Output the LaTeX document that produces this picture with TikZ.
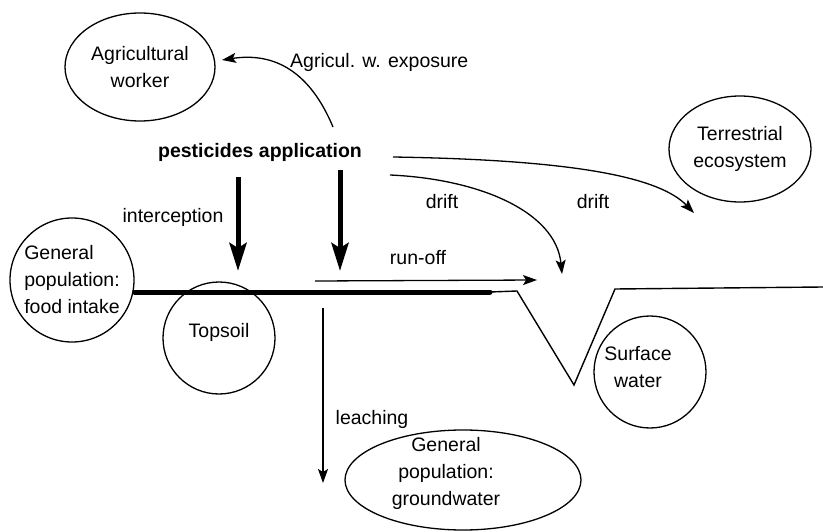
\documentclass[tikz,border=0pt]{standalone}
\usepackage{fontspec}
\setmainfont{Liberation Sans}
\usetikzlibrary{arrows.meta,shapes.geometric}
\begin{document}
\begin{tikzpicture}[x=1pt,y=-1pt,
  txt/.style={font=\fontsize{19.5}{27}\selectfont, inner sep=0pt, align=center},
  blob/.style={txt, draw, line width=1.3pt, ellipse},
  flow/.style={line width=1.3pt, -{Stealth[length=14pt,width=10pt,inset=3pt]}},
  bigflow/.style={line width=5pt, -{Stealth[length=28pt,width=17pt,inset=5pt]}},
  ground/.style={line width=1.4pt, line join=miter}]
\useasboundingbox (0,0) rectangle (823,532);

% receptor compartments
\node[blob, minimum width=150pt, minimum height=108pt] (worker) at (140,67) {Agricultural\\worker};
\node[blob, minimum width=142pt, minimum height=106pt] (terr) at (740,149) {\fontsize{19.5}{25}\selectfont Terrestrial\\ecosystem};
\node[blob, circle, minimum size=124pt, align=left] (food) at (72,280) {\fontsize{19.5}{26.5}\selectfont General\\population:\\food intake};
\node[blob, circle, minimum size=112pt] (topsoil) at (219,338) {};
\node[txt] (topsoiltxt) at (219,332) {Topsoil};
\node[blob, circle, minimum size=112pt] (surf) at (650,372) {};
\node[txt] (surftxt) at (638,367) {\fontsize{19.5}{28}\selectfont Surface\\water};
\node[blob, minimum width=236pt, minimum height=100pt] (gw) at (463,480) {};
\node[txt] (gwtxt) at (446,473) {\fontsize{19.5}{24}\selectfont General\\population:\\groundwater};

% source
\node[txt, font=\fontsize{19.5}{27}\selectfont\bfseries] (pest) at (260,152) {pesticides application};

% soil surface and ditch profile
\coordinate (g0) at (food.east |- 0,292);
\coordinate (g1) at (490,292);
\coordinate (g2) at (517,291);
\coordinate (g3) at (574,385);
\coordinate (g4) at (615,289);
\coordinate (g5) at (823,287);
\draw[ground] (g1) -- (g2) -- (g3) -- (g4) -- (g5);
\draw[line width=5pt, line cap=round] (g0) -- (g1);

% transfer pathways
\coordinate (aw0) at (333,127);
\coordinate (aw1) at (222,60);
\draw[flow] (aw0) .. controls (310,72) and (275,52) .. (aw1);
\node[txt, anchor=west] (lblaw) at (290,62) {Agricul. w. exposure};

\coordinate (d1a) at (393,157);
\coordinate (d1b) at (694,213);
\draw[flow] (d1a) .. controls (580,160) and (660,178) .. (d1b);
\coordinate (d2a) at (390,175);
\coordinate (d2b) at (562,274);
\draw[flow] (d2a) .. controls (480,179) and (556,212) .. (d2b);
\node[txt] (lbld1) at (442,202) {drift};
\node[txt] (lbld2) at (593,202) {drift};

\coordinate (i0) at (238,177);
\coordinate (i1) at (238,271);
\draw[bigflow] (i0) -- (i1);
\node[txt] (lbli) at (173,217) {interception};
\coordinate (s0) at (340,170);
\coordinate (s1) at (340,271);
\draw[bigflow] (s0) -- (s1);

\coordinate (r0) at (315,281);
\coordinate (r1) at (537,280);
\draw[flow] (r0) -- (r1);
\node[txt] (lblr) at (418,258) {run-off};

\coordinate (l0) at (323,308);
\coordinate (l1) at (323,483);
\draw[flow] (l0) -- (l1);
\node[txt] (lbll) at (372,419) {leaching};
\end{tikzpicture}
\end{document}
